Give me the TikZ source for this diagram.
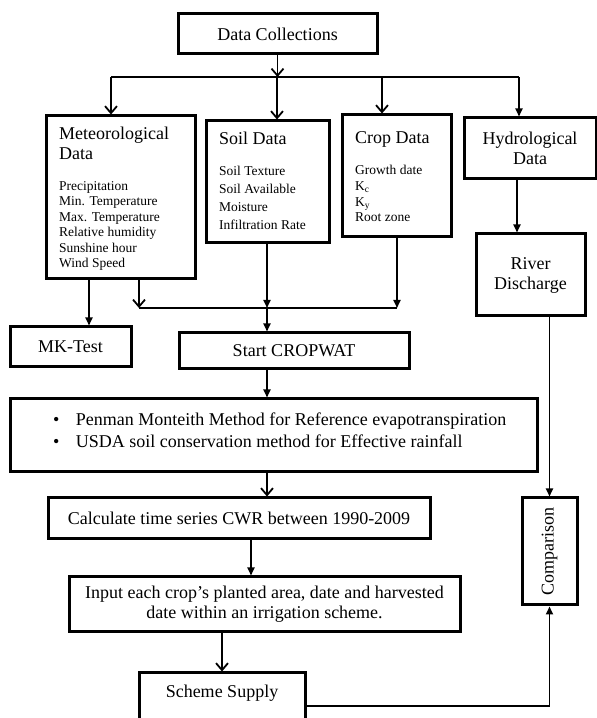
\documentclass[tikz,border=0pt]{standalone}
\usepackage{fontspec}
\setmainfont{Liberation Serif}
\usetikzlibrary{arrows.meta,calc}
\begin{document}
\begin{tikzpicture}[x=1pt,y=1pt]
\tikzset{
 bx/.style 2 args={draw, line width=3pt, inner sep=0pt, minimum width=#1, minimum height=#2, align=center, font=\fontsize{18}{20}\selectfont},
 ln/.style={line width=1.8pt},
 vb/.style={ln, -{Straight Barb[length=7pt,width=12pt]}},
 tr/.style={ln, -{Triangle[length=8pt,width=7pt]}},
 big/.style={font=\fontsize{18}{20}\selectfont, inner sep=0pt},
 lefttxt/.style={anchor=north west, inner sep=0pt, align=left},
}
\useasboundingbox (0,0) rectangle (597,718);
\fill[white] (0,0) rectangle (597,718);

% boxes
\node[bx={199pt}{40pt}] (dc) at (277.5,684) {Data Collections};
\node[bx={149pt}{163pt}] (met) at (120.5,520.5) {};
\node[bx={123pt}{122pt}] (soil) at (267.5,536) {};
\node[bx={109pt}{122pt}] (crop) at (396.5,542) {};
\node[bx={132pt}{61pt}] (hydro) at (530,569.5) {Hydrological\\Data};
\node[bx={109pt}{82pt}] (river) at (530.5,443) {River\\Discharge};
\node[bx={121pt}{40pt}] (mk) at (70.5,371) {MK-Test};
\node[bx={230pt}{36pt}] (start) at (294,367) {Start CROPWAT};
\node[bx={527pt}{73pt}] (pen) at (273.5,282.5) {};
\node[bx={382pt}{41pt}] (calc) at (239,199.5) {Calculate time series CWR between 1990-2009};
\node[bx={391pt}{55pt}] (input) at (264.5,113.5) {Input each crop’s planted area, date and harvested\\date within an irrigation scheme.};
\node[bx={166pt}{49pt}] (scheme) at (222,20.5) {};
\node[big] (schemeT) at (222,25) {Scheme Supply};
\node[bx={55pt}{107pt}] (comp) at (549.5,166.5) {};
\node[big, rotate=90] (compT) at (comp) {Comparison};

% texts inside boxes
\node[lefttxt, font=\fontsize{18}{20}\selectfont] (metT) at (59,591) {Meteorological\\Data};
\node[lefttxt, font=\fontsize{13.5}{15.4}\selectfont] (metI) at (59,536.7) {Precipitation\\Min. Temperature\\Max. Temperature\\Relative humidity\\Sunshine hour\\Wind Speed};
\node[lefttxt, font=\fontsize{18}{20}\selectfont] (soilT) at (219,586.3) {Soil Data};
\node[lefttxt, font=\fontsize{13.5}{18}\selectfont] (soilI) at (219,551.7) {Soil Texture\\Soil Available\\Moisture\\Infiltration Rate};
\node[lefttxt, font=\fontsize{18}{20}\selectfont] (cropT) at (355,586.3) {Crop Data};
\node[lefttxt, font=\fontsize{13.5}{15.7}\selectfont] (cropI) at (355,552.7) {Growth date\\K\textsubscript{c}\\K\textsubscript{y}\\Root zone};
\node[lefttxt, font=\fontsize{18}{22}\selectfont] (penT) at (53,305) {\textbullet\hspace{16.5pt}Penman Monteith Method for Reference evapotranspiration\\\textbullet\hspace{16.5pt}USDA soil conservation method for Effective rainfall};

% helper coordinates
\coordinate (sp) at (277,641);
\coordinate (spL) at (111,641);
\coordinate (spC) at (382,641);
\coordinate (spR) at (519,641);
\coordinate (hr) at (517,0);
\coordinate (xa) at (89,0);
\coordinate (mL) at (139,410);
\coordinate (mC) at (267,410);
\coordinate (mR) at (397,410);
\coordinate (xb) at (251,0);
\coordinate (sc) at (0,12);

% connectors
\draw[vb] (dc.south) -- (dc.south |- sp);
\draw[ln] (spL) -- (spR);
\draw[vb] (spL) -- (spL |- met.north);
\draw[vb] (sp) -- (sp |- soil.north);
\draw[vb] (spC) -- (spC |- crop.north);
\draw[tr] (spR) -- (spR |- hydro.north);
\draw[tr] (hydro.south -| hr) -- (river.north -| hr);
\draw[tr] (met.south -| xa) -- (mk.north -| xa);
\draw[vb] (met.south -| mL) -- (mL);
\draw[ln] (mL) -- (mR);
\draw[tr] (soil.south -| mC) -- (mC);
\draw[tr] (crop.south -| mR) -- (mR);
\draw[tr] (mC) -- (start.north -| mC);
\draw[tr] (start.south -| mC) -- (pen.north -| mC);
\draw[vb] (pen.south -| mC) -- (calc.north -| mC);
\draw[tr] (calc.south -| xb) -- (input.north -| xb);
\draw[vb] (input.south -| scheme) -- (scheme.north);
\draw[tr] (river.south -| comp) -- (comp.north);
\draw[tr] (scheme.east |- sc) -| (comp.south);
\end{tikzpicture}
\end{document}
